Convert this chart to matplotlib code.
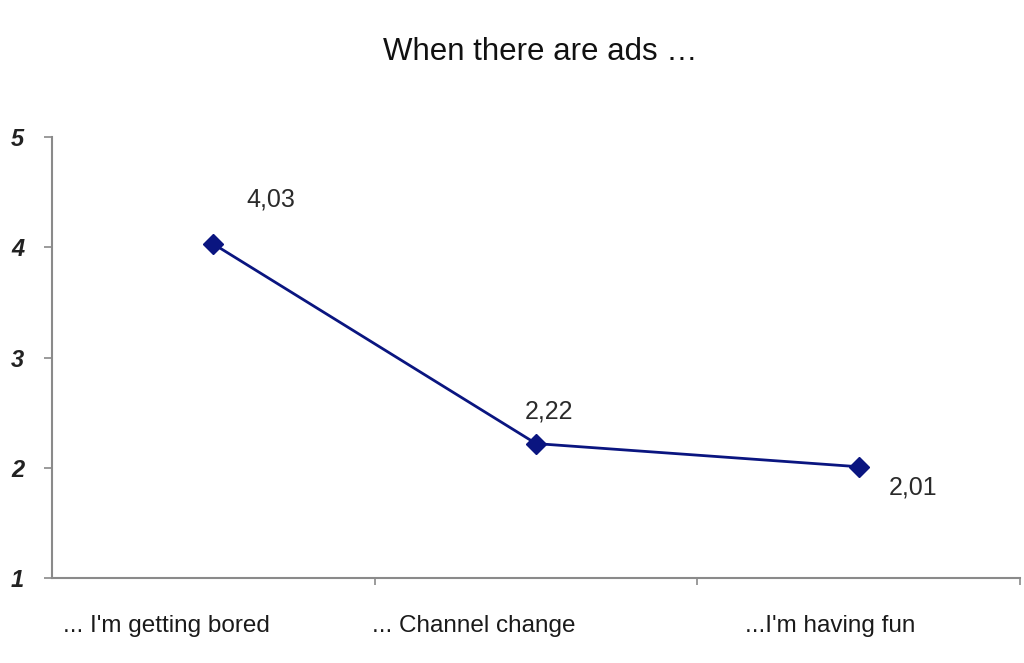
import matplotlib.pyplot as plt

# survey answers, mean score on a 1-5 scale
categories = ["... I'm getting bored", "... Channel change", "...I'm having fun"]
scores = [4.03, 2.22, 2.01]
value_labels = ["4,03", "2,22", "2,01"]
y_ticks = [1, 2, 3, 4, 5]

# pixel offsets of each value label from its point
label_offsets = [(57, 44), (13, 32), (54, -21)]
# x positions (data units) of the category captions under the axis
caption_x = [0.356, 1.308, 2.411]

plt.rcParams["font.family"] = ["Liberation Sans", "DejaVu Sans"]

fig = plt.figure(figsize=(10.24, 6.63), dpi=100)
ax = fig.add_axes([0.0508, 0.128, 0.9453, 0.6654])

x = [i + 0.5 for i in range(len(scores))]
ax.plot(x, scores, color="#0a1580", linewidth=2, marker="D", markersize=10,
        markerfacecolor="#0a1580", markeredgecolor="#0a1580", zorder=3)

for xi, yi, txt, (dx, dy) in zip(x, scores, value_labels, label_offsets):
    ax.annotate(txt, (xi, yi), xytext=(dx, dy), textcoords="offset pixels",
                ha="center", va="center", fontsize=18, color="#2a2a2a")

ax.set_xlim(0, 3)
ax.set_ylim(1, 5)
ax.set_yticks(y_ticks)
ax.set_yticklabels([str(t) for t in y_ticks], fontsize=17, style="italic",
                   fontweight="semibold", color="#222222")
ax.set_xticks([1, 2, 3])
ax.set_xticklabels([])

for side in ("top", "right"):
    ax.spines[side].set_visible(False)
for side in ("left", "bottom"):
    ax.spines[side].set_color("#8a8a8a")
    ax.spines[side].set_linewidth(1.5)
ax.tick_params(axis="y", direction="out", length=6, width=1.2, color="#8a8a8a", pad=14)
ax.tick_params(axis="x", direction="out", length=5, width=1.2, color="#8a8a8a")

for cx, cat in zip(caption_x, categories):
    ax.text(cx, -0.083, cat, transform=ax.get_xaxis_transform(), ha="center",
            va="top", fontsize=17.5, color="#1a1a1a")

fig.text(0.528, 0.922, "When there are ads \u2026", ha="center", va="center",
         fontsize=22.5, color="#111111")

fig.savefig("out.png", dpi=100, facecolor="white")
